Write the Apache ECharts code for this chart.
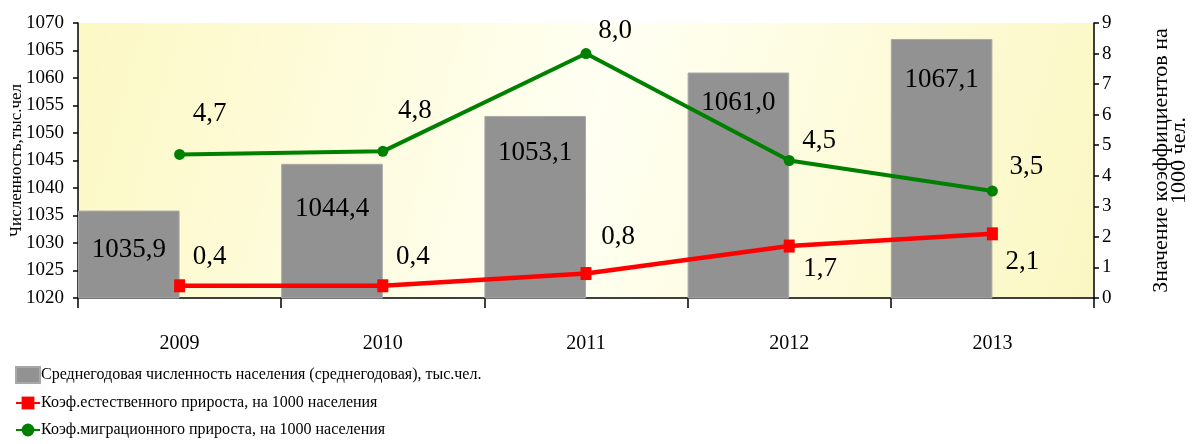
<!DOCTYPE html>
<html lang="ru">
<head>
    <meta charset="UTF-8">
    <title>Население и коэффициенты прироста</title>
    <script src="https://cdnjs.cloudflare.com/ajax/libs/echarts/6.0.0/echarts.min.js"></script>
    <style>
        body { margin: 0; background: #fff; }
        #main { width: 1201px; height: 444px; }
    </style>
</head>
<body>
    <div id="main"></div>
    <script>
        // data
        var years = ['2009', '2010', '2011', '2012', '2013'];
        var population = [1035.9, 1044.4, 1053.1, 1061.0, 1067.1];
        var naturalRate = [0.4, 0.4, 0.8, 1.7, 2.1];
        var migrationRate = [4.7, 4.8, 8.0, 4.5, 3.5];

        var popName = 'Среднегодовая численность населения (среднегодовая), тыс.чел.';
        var natName = 'Коэф.естественного прироста, на 1000 населения';
        var migName = 'Коэф.миграционного прироста, на 1000 населения';

        // label placement (pixels, relative to bar top / marker)
        var popLabelDy = [39, 45, 37, 30, 41];
        var natLabelOff = [[30, -29], [30, -29], [32, -37], [31, 23], [30, 28]];
        var migLabelOff = [[30, -40], [32, -40], [29, -23], [30, -20], [34, -24]];

        var FONT = 'Liberation Serif';

        function fmt(p) {
            return Number(p.value).toFixed(1).replace('.', ',');
        }

        var chart = echarts.init(document.getElementById('main'));

        var option = {
            backgroundColor: '#ffffff',
            textStyle: { fontFamily: FONT, color: '#000' },
            grid: {
                left: 78, right: 107, top: 23, bottom: 146,
                outerBoundsMode: 'none',
                containLabel: false,
                show: true,
                borderWidth: 0,
                backgroundColor: new echarts.graphic.LinearGradient(0, 0, 1, 1, [
                    { offset: 0, color: '#fcf8c4' },
                    { offset: 0.5, color: '#fffff2' },
                    { offset: 1, color: '#fbf7c2' }
                ])
            },
            legend: {
                orient: 'vertical',
                left: 15,
                top: 366,
                padding: 0,
                itemWidth: 24,
                itemHeight: 16,
                itemGap: 11,
                textStyle: { fontFamily: FONT, fontSize: 16, lineHeight: 16, color: '#000', padding: [0, 0, 0, -4] },
                data: [{ name: popName, icon: 'rect' }, natName, migName]
            },
            xAxis: {
                type: 'category',
                data: years,
                axisLine: { lineStyle: { color: '#000', width: 1.5 } },
                axisTick: { show: true, length: 10, lineStyle: { color: '#000', width: 1.5 } },
                axisLabel: { fontFamily: FONT, fontSize: 20, color: '#000', margin: 36 }
            },
            yAxis: [
                {
                    type: 'value',
                    min: 1020, max: 1070, interval: 5,
                    name: 'Численность,тыс.чел',
                    nameLocation: 'middle',
                    nameRotate: 90,
                    nameGap: 53,
                    nameMoveOverlap: false,
                    nameTextStyle: { fontFamily: FONT, fontSize: 17, color: '#000' },
                    axisLine: { show: true, lineStyle: { color: '#000', width: 1.5 } },
                    axisTick: { show: true, length: 5, lineStyle: { color: '#000', width: 1.5 } },
                    axisLabel: {
                        fontFamily: FONT, fontSize: 19, color: '#000', margin: 14,
                        formatter: function (v) { return String(v); }
                    },
                    splitLine: { show: false }
                },
                {
                    type: 'value',
                    position: 'right',
                    min: 0, max: 9, interval: 1,
                    name: 'Значение коэффициентов на\n1000 чел.',
                    nameLocation: 'middle',
                    nameRotate: 90,
                    nameGap: 58,
                    nameMoveOverlap: false,
                    nameTextStyle: { fontFamily: FONT, fontSize: 22, lineHeight: 18, color: '#000' },
                    axisLine: { show: true, lineStyle: { color: '#000', width: 1.5 } },
                    axisTick: { show: true, length: 5, lineStyle: { color: '#000', width: 1.5 } },
                    axisLabel: { fontFamily: FONT, fontSize: 19, color: '#000', margin: 8 },
                    splitLine: { show: false }
                }
            ],
            series: [
                {
                    name: popName,
                    type: 'bar',
                    barGap: '0%',
                    barCategoryGap: '0%',
                    itemStyle: { color: '#929292', borderColor: '#a8a8a8', borderWidth: 1 },
                    label: {
                        show: true,
                        position: 'insideTop',
                        distance: 0,
                        verticalAlign: 'middle',
                        fontFamily: FONT,
                        fontSize: 27,
                        color: '#000',
                        formatter: fmt
                    },
                    data: population.map(function (v, i) {
                        return { value: v, label: { offset: [0, popLabelDy[i]] } };
                    })
                },
                {
                    // empty slot so the bars fill the left half of each category
                    name: 'spacer',
                    type: 'bar',
                    silent: true,
                    data: years.map(function () { return '-'; })
                },
                {
                    name: natName,
                    type: 'line',
                    yAxisIndex: 1,
                    z: 5,
                    symbol: 'rect',
                    symbolSize: [11, 13],
                    color: '#ff0000',
                    lineStyle: { color: '#ff0000', width: 4.5 },
                    itemStyle: { color: '#ff0000' },
                    label: {
                        show: true,
                        position: 'inside',
                        fontFamily: FONT,
                        fontSize: 27,
                        color: '#000',
                        formatter: fmt
                    },
                    data: naturalRate.map(function (v, i) {
                        return { value: v, label: { offset: natLabelOff[i] } };
                    })
                },
                {
                    name: migName,
                    type: 'line',
                    yAxisIndex: 1,
                    z: 5,
                    symbol: 'circle',
                    symbolSize: 11,
                    color: '#008000',
                    lineStyle: { color: '#008000', width: 4 },
                    itemStyle: { color: '#008000' },
                    label: {
                        show: true,
                        position: 'inside',
                        fontFamily: FONT,
                        fontSize: 27,
                        color: '#000',
                        formatter: fmt
                    },
                    data: migrationRate.map(function (v, i) {
                        return { value: v, label: { offset: migLabelOff[i] } };
                    })
                }
            ]
        };

        chart.setOption(option);
    </script>
</body>
</html>
